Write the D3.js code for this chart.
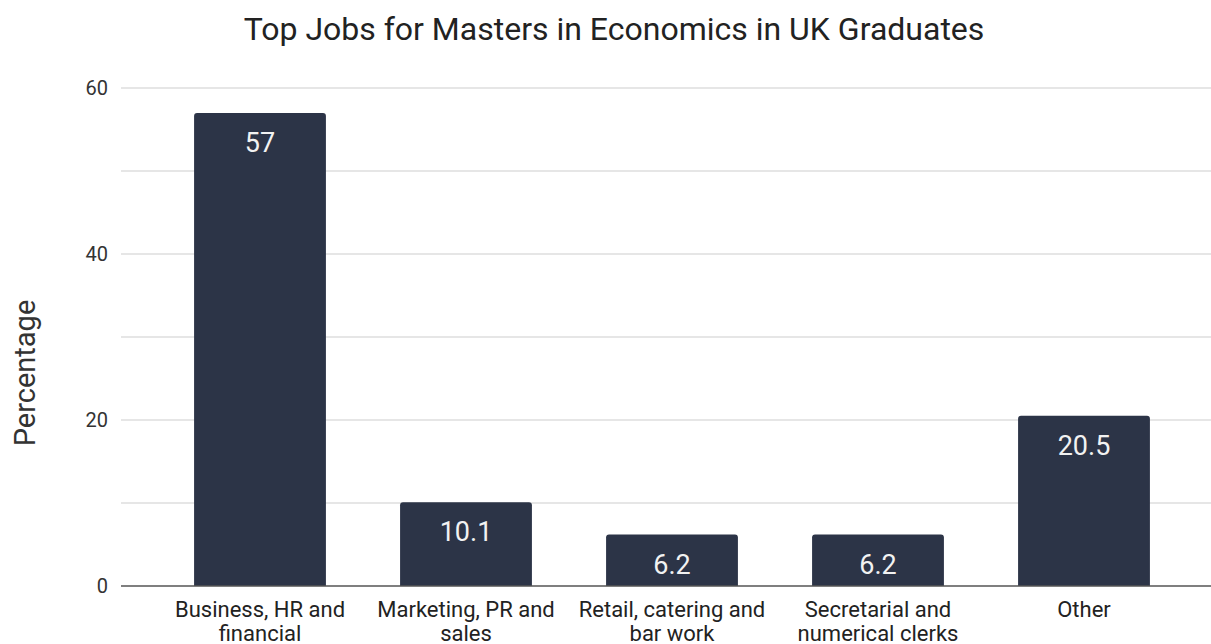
<!DOCTYPE html>
<html>
<head>
<meta charset="utf-8">
<script src="https://cdnjs.cloudflare.com/ajax/libs/d3/7.8.5/d3.min.js"></script>
<style>
  body { margin: 0; background: #fff; }
  text { font-family: Roboto, "Noto Sans", sans-serif; }
</style>
</head>
<body>
<svg id="chart"></svg>
<script>
var categories = [
  ["Business, HR and", "financial"],
  ["Marketing, PR and", "sales"],
  ["Retail, catering and", "bar work"],
  ["Secretarial and", "numerical clerks"],
  ["Other"]
];
var values = [57, 10.1, 6.2, 6.2, 20.5];
var major_ticks = [0, 20, 40, 60];
var minor_ticks = [10, 30, 50];

var width = 1211, height = 644;
var svg = d3.select("#chart")
  .attr("width", width)
  .attr("height", height);

var grid_left = 121, grid_right = 1211;

var x = d3.scaleBand()
  .domain(d3.range(values.length))
  .range([157, 1187])
  .paddingInner(0.36)
  .paddingOuter(0.18);

var y = d3.scaleLinear()
  .domain([0, 60])
  .range([586, 88]);

// gridlines
svg.append("g")
  .selectAll("line")
  .data(major_ticks.concat(minor_ticks).filter(function(d) { return d != 0; }))
  .enter()
  .append("line")
  .attr("x1", grid_left)
  .attr("x2", grid_right)
  .attr("y1", function(d) { return y(d); })
  .attr("y2", function(d) { return y(d); })
  .attr("stroke", "#dedede")
  .attr("stroke-width", 1.6);

// y axis labels
var yAxis = d3.axisLeft(y)
  .tickValues(major_ticks)
  .tickSize(0)
  .tickPadding(0);
var yg = svg.append("g")
  .attr("transform", "translate(108,0)")
  .call(yAxis);
yg.select(".domain").remove();
yg.selectAll("text")
  .attr("font-size", "20px")
  .attr("fill", "#333")
  .style("font-family", "Roboto, sans-serif");

// bars with slightly rounded tops
function barPath(d, i) {
  var x0 = x(i), w = x.bandwidth(), y0 = y(d), y1 = y(0), r = 3;
  return "M" + x0 + "," + y1 +
    "V" + (y0 + r) +
    "Q" + x0 + "," + y0 + " " + (x0 + r) + "," + y0 +
    "H" + (x0 + w - r) +
    "Q" + (x0 + w) + "," + y0 + " " + (x0 + w) + "," + (y0 + r) +
    "V" + y1 + "Z";
}
svg.append("g")
  .selectAll("path")
  .data(values)
  .enter()
  .append("path")
  .attr("d", barPath)
  .attr("fill", "#2c3447");

// value labels
svg.append("g")
  .selectAll("text")
  .data(values)
  .enter()
  .append("text")
  .attr("x", function(d, i) { return x(i) + x.bandwidth() / 2; })
  .attr("y", function(d) { return y(d) + 39; })
  .attr("text-anchor", "middle")
  .attr("font-size", "27px")
  .attr("fill", "#f2f2f2")
  .text(function(d) { return d; });

// baseline
svg.append("line")
  .attr("x1", grid_left)
  .attr("x2", grid_right)
  .attr("y1", y(0))
  .attr("y2", y(0))
  .attr("stroke", "#555")
  .attr("stroke-width", 1.6);

// x axis category labels
var xl = svg.append("g")
  .selectAll("text")
  .data(categories)
  .enter()
  .append("text")
  .attr("x", function(d, i) { return x(i) + x.bandwidth() / 2; })
  .attr("y", 617)
  .attr("text-anchor", "middle")
  .attr("font-size", "22px")
  .attr("fill", "#222");
xl.selectAll("tspan")
  .data(function(d) { return d; })
  .enter()
  .append("tspan")
  .attr("x", function() { return d3.select(this.parentNode).attr("x"); })
  .attr("dy", function(d, i) { return i == 0 ? 0 : 24; })
  .text(function(d) { return d; });

// title
svg.append("text")
  .attr("x", 614)
  .attr("y", 40)
  .attr("text-anchor", "middle")
  .attr("font-size", "32px")
  .attr("fill", "#222")
  .text("Top Jobs for Masters in Economics in UK Graduates");

// y axis title
svg.append("text")
  .attr("transform", "translate(35,373) rotate(-90)")
  .attr("text-anchor", "middle")
  .attr("font-size", "29px")
  .attr("fill", "#333")
  .text("Percentage");
</script>
</body>
</html>
